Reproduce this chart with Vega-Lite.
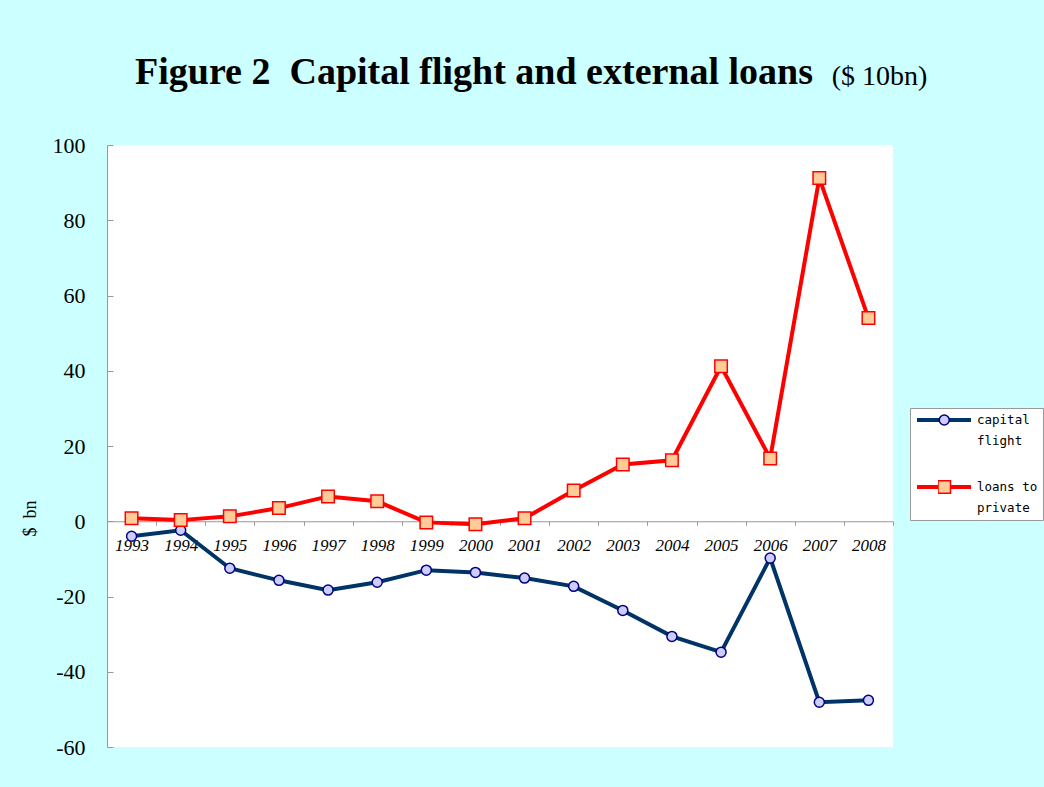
{
  "$schema": "https://vega.github.io/schema/vega-lite/v6.json",
  "autosize": {"type": "none"},
  "padding": {"left": 107, "top": 145, "right": 151, "bottom": 40},
  "width": 786,
  "height": 602,
  "background": "#CCFFFF",
  "config": {"view": {"stroke": null, "fill": "white"}},
  "title": {
    "text": "Figure 2\u00a0 Capital flight and external loans",
    "font": "Liberation Serif",
    "fontSize": 38,
    "fontWeight": "bold",
    "color": "black",
    "anchor": "middle",
    "frame": "group",
    "dx": -26,
    "baseline": "alphabetic",
    "offset": -60
  },
  "data": {
    "values": [
      {"year": "1993", "series": "capital flight", "value": -4.0},
      {"year": "1994", "series": "capital flight", "value": -2.4},
      {"year": "1995", "series": "capital flight", "value": -12.5},
      {"year": "1996", "series": "capital flight", "value": -15.7},
      {"year": "1997", "series": "capital flight", "value": -18.3},
      {"year": "1998", "series": "capital flight", "value": -16.2},
      {"year": "1999", "series": "capital flight", "value": -13.0},
      {"year": "2000", "series": "capital flight", "value": -13.6},
      {"year": "2001", "series": "capital flight", "value": -15.1},
      {"year": "2002", "series": "capital flight", "value": -17.3},
      {"year": "2003", "series": "capital flight", "value": -23.7},
      {"year": "2004", "series": "capital flight", "value": -30.6},
      {"year": "2005", "series": "capital flight", "value": -34.8},
      {"year": "2006", "series": "capital flight", "value": -9.8},
      {"year": "2007", "series": "capital flight", "value": -48.1},
      {"year": "2008", "series": "capital flight", "value": -47.6},
      {"year": "1993", "series": "loans to private", "value": 0.8},
      {"year": "1994", "series": "loans to private", "value": 0.3},
      {"year": "1995", "series": "loans to private", "value": 1.3},
      {"year": "1996", "series": "loans to private", "value": 3.5},
      {"year": "1997", "series": "loans to private", "value": 6.6},
      {"year": "1998", "series": "loans to private", "value": 5.3},
      {"year": "1999", "series": "loans to private", "value": -0.3},
      {"year": "2000", "series": "loans to private", "value": -0.8},
      {"year": "2001", "series": "loans to private", "value": 0.8},
      {"year": "2002", "series": "loans to private", "value": 8.2},
      {"year": "2003", "series": "loans to private", "value": 15.1},
      {"year": "2004", "series": "loans to private", "value": 16.2},
      {"year": "2005", "series": "loans to private", "value": 41.2},
      {"year": "2006", "series": "loans to private", "value": 16.7},
      {"year": "2007", "series": "loans to private", "value": 91.2},
      {"year": "2008", "series": "loans to private", "value": 54.0}
    ]
  },
  "encoding": {
    "x": {
      "field": "year",
      "type": "ordinal",
      "scale": {"type": "band", "paddingInner": 0, "paddingOuter": 0},
      "axis": {
        "offset": -225.75,
        "tickBand": "extent",
        "tickSize": 4,
        "tickColor": "#999999",
        "domainColor": "#999999",
        "labelAngle": 0,
        "labelPadding": 12,
        "labelFont": "Liberation Serif",
        "labelFontStyle": "italic",
        "labelFontSize": 17,
        "labelColor": "black",
        "labelBaseline": "top",
        "grid": false,
        "title": "($ 10bn)",
        "titleFont": "Liberation Serif",
        "titleFontSize": 28,
        "titleFontWeight": "normal",
        "titleColor": "black",
        "titleX": 772,
        "titleY": -437,
        "titleAlign": "center",
        "titleBaseline": "alphabetic"
      }
    },
    "y": {
      "field": "value",
      "type": "quantitative",
      "scale": {"domain": [-60, 100], "nice": false, "zero": false},
      "axis": {
        "values": [-60, -40, -20, 0, 20, 40, 60, 80, 100],
        "labelExpr": "toString(datum.value)",
        "grid": false,
        "tickSize": -6,
        "tickColor": "#999999",
        "domainColor": "#999999",
        "labelPadding": 28,
        "labelFont": "Liberation Serif",
        "labelFontSize": 22,
        "labelColor": "black",
        "title": "$\u00a0 bn",
        "titleFont": "Liberation Serif",
        "titleFontSize": 18,
        "titleFontWeight": "normal",
        "titleColor": "black",
        "titleX": -68,
        "titleY": 373,
        "titleAlign": "center"
      }
    }
  },
  "layer": [
    {
      "mark": {"type": "line", "strokeWidth": 4},
      "encoding": {
        "color": {
          "field": "series",
          "type": "nominal",
          "scale": {"domain": ["capital flight", "loans to private"], "range": ["#003366", "#FF0000"]},
          "legend": {
            "orient": "none",
            "legendX": 803,
            "legendY": 263,
            "title": null,
            "symbolType": "stroke",
            "symbolSize": 2916,
            "symbolStrokeWidth": 4,
            "strokeColor": "#999999",
            "fillColor": "white",
            "padding": 5,
            "clipHeight": 14,
            "rowPadding": 32,
            "labelFont": "DejaVu Sans Mono",
            "labelFontSize": 12.5,
            "labelColor": "black",
            "labelOffset": 4,
            "labelLimit": 300,
            "labelExpr": "datum.label == 'capital flight' ? ['capital', 'flight'] : ['loans to', 'private']",
            "encode": {"labels": {"update": {"lineHeight": {"value": 21}}}}
          }
        }
      }
    },
    {
      "mark": {"type": "point", "filled": true, "opacity": 1, "size": 100, "strokeWidth": 1.5},
      "encoding": {
        "shape": {
          "field": "series",
          "type": "nominal",
          "scale": {"range": ["circle", "M-1.25,-1.25H1.25V1.25H-1.25Z"]},
          "legend": {
            "orient": "none",
            "legendX": 826,
            "legendY": 263,
            "title": null,
            "symbolSize": 100,
            "symbolStrokeWidth": 1.5,
            "padding": 5,
            "clipHeight": 14,
            "rowPadding": 53,
            "labelFontSize": 12.5,
            "labelOpacity": 0,
            "labelExpr": "''"
          }
        },
        "fill": {
          "field": "series",
          "type": "nominal",
          "scale": {"range": ["#CCCCFF", "#FFCC99"]},
          "legend": {
            "orient": "none",
            "legendX": 826,
            "legendY": 263,
            "title": null,
            "symbolSize": 100,
            "symbolStrokeWidth": 1.5,
            "padding": 5,
            "clipHeight": 14,
            "rowPadding": 53,
            "labelFontSize": 12.5,
            "labelOpacity": 0,
            "labelExpr": "''"
          }
        },
        "stroke": {
          "field": "series",
          "type": "nominal",
          "scale": {"range": ["#000080", "#FF0000"]},
          "legend": {
            "orient": "none",
            "legendX": 826,
            "legendY": 263,
            "title": null,
            "symbolSize": 100,
            "symbolStrokeWidth": 1.5,
            "padding": 5,
            "clipHeight": 14,
            "rowPadding": 53,
            "labelFontSize": 12.5,
            "labelOpacity": 0,
            "labelExpr": "''"
          }
        }
      }
    }
  ]
}
